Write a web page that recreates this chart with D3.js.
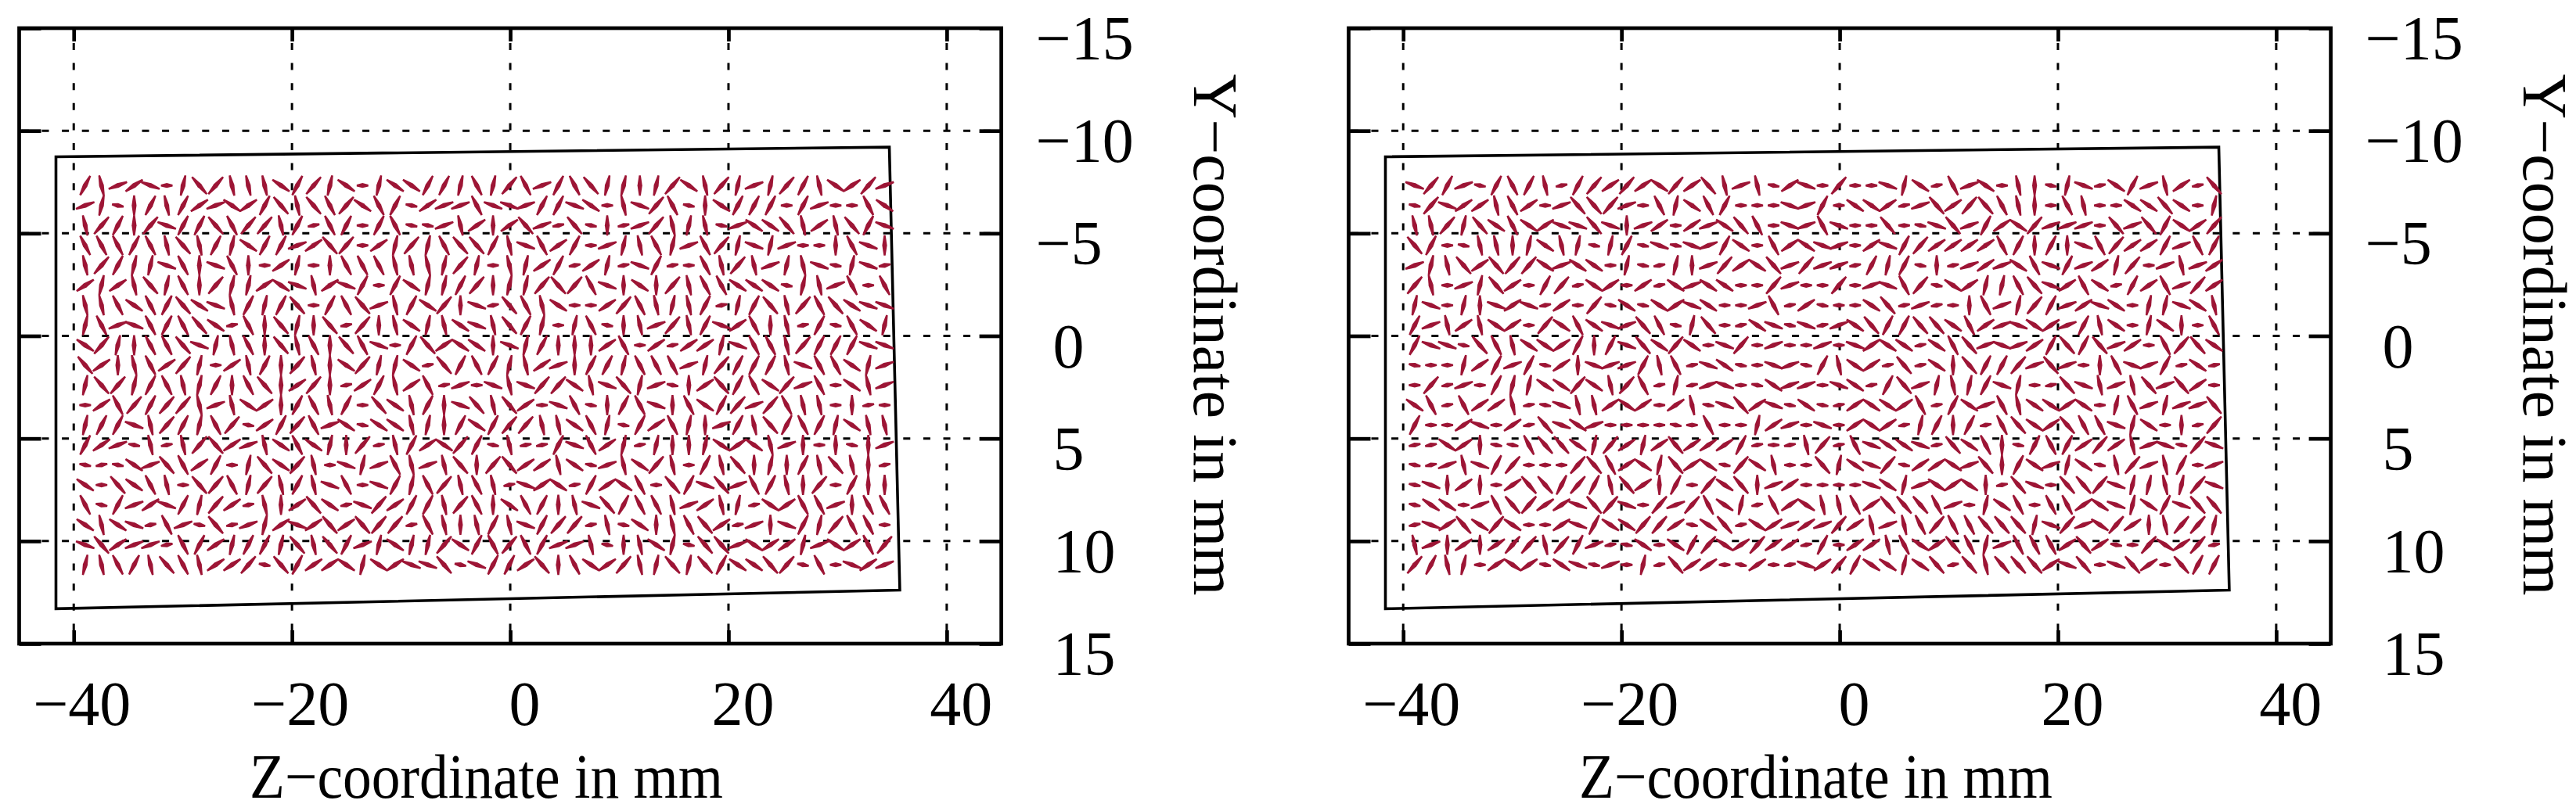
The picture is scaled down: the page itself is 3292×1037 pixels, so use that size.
<!DOCTYPE html>
<html><head><meta charset="utf-8">
<style>html,body{margin:0;padding:0;background:#fff}svg{display:block}text{font-family:"Liberation Serif",serif;fill:#000}</style>
<script src="https://cdn.jsdelivr.net/npm/d3@7"></script></head>
<body><script>
const zTicks=[-40,-20,0,20,40];
const yTicks=[-15,-10,-5,0,5,10,15];
const xTitle="Z\u2212coordinate in mm";
const yTitle="Y\u2212coordinate in mm";
// specimen outline, mm
const outlineZ=[-41.63,34.74,35.7,-41.63];
const outlineY=[-8.73,-9.2,12.39,13.3];
// sampling grid, mm
const sampleZ0=-38.95, sampleZStep=1.495, sampleCols=50;
const sampleY0=-7.33, sampleYStep=0.973;
// direction classes: [dz,dy] in mm
const dirs={a:[1.08,0],h:[1.08,.11],b:[1.7,.34],c:[1.58,.57],d:[1.36,.84],e:[.93,.95],f:[.43,.99],g:[0,.99]};
// one letter per sample; upper case leans the other way
const leftField=[
"eFbcBafDdFFFCedfC"+"afCCeefEfdEbeEDff"+"gfdCFdfbfdeFCcdb",
"bfHgeFecbCceDFDEd"+"CEeHcbbEBBbeeBCaF"+"BdEHgCeeeaebaaEC",
"FdegdBeeDEddFehEe"+"aeEHHbFcgcDbhDHgh"+"bdFfFHbCCDFcFDeB",
"EEEeEFDFefCeebcDd"+"acfdfEDDeFBEceabf"+"FEfbEdfBfbaagEBg",
"FdeffBEgBEgacfagE"+"EEFFFfdfaFfcehcfh"+"BehaEFdFbfFBHfBh",
"cfcFDfEgdffcCBFcB"+"eaeCffedgffdDdEBg"+"CgdFEECCCHfFbEaE",
"FFECEeDCBFefeDaeE"+"DbFeCdgBhDEFCaacd"+"EFfFehfeDFdEDCBB",
"fEbBEeEDChEgDfgDh"+"dgFCfFCBFDefafEHg"+"FbdFeBcEgFheHECf",
"CdfgEEDBfFEgDFEgD"+"EBaeDcCCgBfegggcE"+"achccfBEEFdeeeBB",
"DcgFEcdfacFegdFgC"+"dffChDeEefFcbgeef"+"EEEbfdeeeFBEECfb",
"fDdfeEFfegEDgcdgh"+"ceFcEhbaBFBddCFBD"+"fbHgcDeECdbEaCFb",
"acEdeddFbFCcgeEFe"+"aDCFegBDFDcaBEHge"+"EBgECedbdEFFagha",
"feeBFdefEdHcedEbC"+"HCCFfgeCeddFFCEfH"+"ecEfgbeFDeEefCFF",
"ecbHFhFdDcbFCECfg"+"dhFecCdeHFhheBEcf"+"hfggfCcCFbgagHgb",
"HhHCbDEceafDCdFaB"+"fbEFbFDgdDccFCHbF"+"CdFaeFDgfgeFDFgh",
"CaDCEFaDdEfdFeFBE"+"aBefEdFEFhBcChecC"+"EaDeBDbEeFgdaegg",
"EHebcBefdchFgcDCh"+"BdceeFdEgCEegFBDe"+"EEFbcFfhCcEEbgEE",
"CFCBhEbHDhbfcBcDc"+"DddhEFgFeFBeddhFH"+"CgFEDchbgBefdEEa",
"BDcbbhEecfeefDFDe"+"bfCffdCeEdEebbFHg"+"FCfHDDbCccfbCcEd",
"fFEeFDEFccdHDeccC"+"fCcBBDHBeecDgECcd"+"FfDfDeCCDdHEaBcb"];
const rightField=[
"BdebHeEeFhedcdcCd"+"cDFbFHcBadaaBfChE"+"bCaFgHfBhCebFchD",
"HdBccFEcabDDdbaEf"+"CEeaaaBbeaCCchbDc"+"dDEFgaEFaaCCDCaf",
"FFdfDCECcBBDBgbca"+"cbCDEaBbEBaaDaHBD"+"becCdbbbaDbDeCcd",
"DeaHFFgfCFfHfeHBH"+"BbeCaEcCBbacBedcc"+"ccEegegBEdccebEe",
"bfFDcDddCbCCafHhf"+"gbdcCDbdbbhefeHgh"+"bcbCEBebcfdabFbc",
"dFabfDcaedhCcachC"+"bCCaadbaadabBEdHC"+"cffEDBcEChecEbdc",
"fBafgBcBhcadHCHCc"+"BCaabEhcHaaCDhbha"+"gEbfdebcBCaffBCF",
"ebFcFCcadCECBbDEH"+"fDahCBHBhbCDeeDDC"+"EcbBCcbeFCafCgaE",
"eBBHDEFCCcegeBDCd"+"CaBdabaabaBcCChCE"+"DbBbceDeDbcaEdDC",
"HaafcebeHcgBbbeFE"+"hBCHaBbHeFCchDhCg"+"DeedbDbagEBbehCh",
"adhbaeffCCdCFdEhf"+"hbBaHCbbaBCheDbfF"+"feBfahDBFbFDbDca",
"CEhEccFhHBFFcCcac"+"FHBDcBHCHhcCCcEhe"+"CbEFCCcCafEbfbbD",
"eaacBachDBCbaaaaH"+"aEaafcbaBacCchfeg"+"ehEDCcDEEBfCaghd",
"hhCcgHHEDDCfdcfcD"+"cccehahFdhEBCCBhD"+"CEgHeEecdcFbBHdB",
"HhbFBedaaadDEcCfD"+"cCHdCFaaDfCBdHccC"+"bDgeCbfCHFdbFeab",
"HBgcgacDDedeFDcge"+"adCDgbcaaaaBCfbCc"+"CghDBaDDdBffFfdB",
"HCCabEDdccBDdBadb"+"dECfhEcCFFEcDDDEb"+"afCEaEEcCBfCeBDD",
"hBcDCdCaacBeCCddc"+"HCDhCcbcbdcFbFEdE"+"EDDDfBdbCdcgFddf",
"FbgcgcddFdebhHCaC"+"edCcdccheaccFECcD"+"EfbEEEcDcHadCcdh",
"deFfacCcHCBHbafhD"+"ccaHcahBcdeCCfCDh"+"DFDDDcBDaBDcaDee"];

const W=3292,H=1037,RED="#9d1535";
const svg=d3.select("body").append("svg").attr("width",W).attr("height",H);
const z=d3.scaleLinear().domain([-45,45]).range([24.5,1279.6]);
const y=d3.scaleLinear().domain([-15,15]).range([36,823]);
const fmt=v=>String(v).replace("-","\u2212");
const FS=80;

function lens(x1,y1,x2,y2){
  const dx=x2-x1,dy=y2-y1,l=Math.hypot(dx,dy)||1,nx=-dy/l,ny=dx/l,mx=(x1+x2)/2,my=(y1+y2)/2;
  const tip=1.2,mid=3.1;
  return "M"+[[x1+nx*tip,y1+ny*tip],[mx+nx*mid,my+ny*mid],[x2+nx*tip,y2+ny*tip],[x2-nx*tip,y2-ny*tip],[mx-nx*mid,my-ny*mid],[x1-nx*tip,y1-ny*tip]].map(p=>p[0].toFixed(1)+","+p[1].toFixed(1)).join("L")+"Z";
}
function panel(offset,field){
  const g=svg.append("g").attr("transform",`translate(${offset},0)`);
  const [x0,x1]=z.range(),[y0,y1]=y.range();
  // grid
  g.selectAll(".gv").data(zTicks).join("line").attr("x1",d=>z(d)).attr("x2",d=>z(d)).attr("y1",y0).attr("y2",y1)
    .attr("stroke","#000").attr("stroke-width",3).attr("stroke-dasharray","9 16.6").attr("stroke-dashoffset",-19);
  g.selectAll(".gh").data(yTicks.slice(1,-1)).join("line").attr("y1",d=>y(d)).attr("y2",d=>y(d)).attr("x1",x0).attr("x2",x1)
    .attr("stroke","#000").attr("stroke-width",3).attr("stroke-dasharray","9 16.6").attr("stroke-dashoffset",-3.4);
  // axes
  const tick=a=>a.tickSizeOuter(0);
  const ab=g.append("g").attr("transform",`translate(0,${y1})`).call(tick(d3.axisBottom(z).tickValues(zTicks).tickSizeInner(-17).tickFormat(fmt)));
  const at=g.append("g").attr("transform",`translate(0,${y0})`).call(tick(d3.axisTop(z).tickValues(zTicks).tickSizeInner(-17).tickFormat("")));
  const al=g.append("g").attr("transform",`translate(${x0},0)`).call(tick(d3.axisLeft(y).tickValues(yTicks).tickSizeInner(-28).tickFormat("")));
  const ar=g.append("g").attr("transform",`translate(${x1},0)`).call(tick(d3.axisRight(y).tickValues(yTicks).tickSizeInner(-28).tickFormat(fmt)));
  [ab,at,al,ar].forEach(a=>{a.select(".domain").remove();a.selectAll("line").attr("stroke","#000").attr("stroke-width",4.7);});
  ab.selectAll("text").attr("x",d=>d<0?10:18).attr("y",104).attr("dy",null).attr("text-anchor","middle").attr("font-size",FS);
  ar.selectAll("text").attr("x",d=>d<0?44:66).attr("y",39.5).attr("dy",null).attr("text-anchor","start").attr("font-size",FS);
  // outline
  g.append("path").attr("d",d3.line().x(i=>z(outlineZ[i])).y(i=>y(outlineY[i])).curve(d3.curveLinearClosed)(d3.range(outlineZ.length)))
    .attr("fill","none").attr("stroke","#000").attr("stroke-width",3.6);
  // vectors
  const cells=[];
  field.forEach((row,r)=>{[...row].forEach((c,k)=>{
    const d=dirs[c.toLowerCase()],s=c===c.toLowerCase()?1:-1;
    cells.push({z:sampleZ0+k*sampleZStep,y:sampleY0+r*sampleYStep,dz:s*d[0],dy:d[1]});
  });});
  g.append("g").selectAll("path").data(cells).join("path").attr("fill",RED)
    .attr("d",c=>lens(z(c.z-c.dz/2),y(c.y+c.dy/2),z(c.z+c.dz/2),y(c.y-c.dy/2)));
  // frame
  g.append("rect").attr("x",x0).attr("y",y0).attr("width",x1-x0).attr("height",y1-y0).attr("fill","none").attr("stroke","#000").attr("stroke-width",4.7);
  // titles
  g.append("text").attr("x",621.5).attr("y",1020).attr("text-anchor","middle").attr("font-size",FS)
    .attr("textLength",605).attr("lengthAdjust","spacingAndGlyphs").text(xTitle);
  g.append("text").attr("transform","translate(1526,428) rotate(90)").attr("text-anchor","middle").attr("font-size",FS).text(yTitle);
}
panel(0,leftField);
panel(1699,rightField);
</script></body></html>
